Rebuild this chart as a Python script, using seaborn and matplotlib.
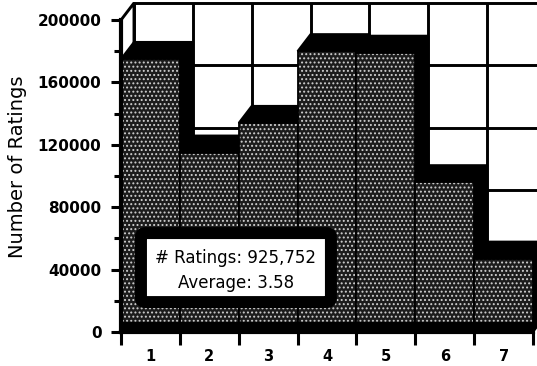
import matplotlib
matplotlib.use("Agg")
import matplotlib.pyplot as plt
from matplotlib.patches import Polygon, Rectangle, FancyBboxPatch
import seaborn as sns
import pandas as pd

# Rating histogram values
ratings = [1, 2, 3, 4, 5, 6, 7]
counts = [175000, 115000, 134000, 180000, 179000, 96000, 47000]
y_major = [0, 40000, 80000, 120000, 160000, 200000]
y_minor = [20000, 60000, 100000, 140000, 180000]
summary_lines = ["# Ratings: 925,752", "Average: 3.58"]
y_title = "Number of Ratings"

df = pd.DataFrame({"rating": ratings, "count": counts})

sns.set_theme(style="white")
plt.rcParams["font.family"] = ["DejaVu Sans"]
plt.rcParams["hatch.linewidth"] = 0.9

W, H = 537, 366
fig = plt.figure(figsize=(W / 100, H / 100), dpi=100)
ax = fig.add_axes([121 / W, (H - 332) / H, 412 / W, 312 / H])
ax.set_facecolor("white")
ax.set_xlim(0.5, 7.5)
ax.set_ylim(0, 200000)

# depth of the pseudo-3D box, in pixels converted to data units
inv = ax.transData.inverted()
x0, y0 = ax.transData.transform((0.5, 0))
p = inv.transform((x0 + 13, y0 + 17))
ddx, ddy = p[0] - 0.5, p[1]
band = inv.transform((x0, y0 + 10))[1]

ink = "black"
wall_lw = 2.1

# back wall and left wall
ax.add_patch(Rectangle((0.5 + ddx, ddy), 7, 200000, facecolor="white",
                       edgecolor=ink, lw=wall_lw, clip_on=False, zorder=0.8))
ax.add_patch(Polygon([(0.5, 0), (0.5, 200000), (0.5 + ddx, 200000 + ddy),
                      (0.5 + ddx, ddy)], closed=True, facecolor="white",
                     edgecolor=ink, lw=wall_lw, clip_on=False, zorder=0.9))
for yv in y_major[1:-1]:
    ax.plot([0.5 + ddx, 7.5 + ddx], [yv + ddy, yv + ddy], color=ink,
            lw=wall_lw, clip_on=False, zorder=1, solid_capstyle="butt")
for xe in [r + 0.5 for r in ratings[:-1]] + [7.5]:
    ax.plot([xe + ddx, xe + ddx], [ddy, 200000 + ddy], color=ink,
            lw=wall_lw, clip_on=False, zorder=1, solid_capstyle="butt")

# front faces: stippled fill, then outlines
sns.barplot(data=df, x="rating", y="count", native_scale=True, width=1.0,
            color="#1c1c1c", edgecolor="#cfcfcf", linewidth=0, ax=ax)
fill_bars = list(ax.containers[-1].patches)
sns.barplot(data=df, x="rating", y="count", native_scale=True, width=1.0,
            fill=False, edgecolor=ink, linewidth=1.3, ax=ax)
edge_bars = list(ax.containers[-1].patches)

for i, (fb, eb) in enumerate(zip(fill_bars, edge_bars)):
    fb.set_hatch("....")
    fb.set_zorder(3 + 3 * i + 1)
    eb.set_zorder(3 + 3 * i + 2)
    l = fb.get_x()
    r = l + fb.get_width()
    h = fb.get_height()
    top = Polygon([(l, h), (r, h), (r + ddx, h + ddy), (l + ddx, h + ddy)],
                  closed=True, facecolor=ink, edgecolor=ink, lw=1.5,
                  clip_on=False, zorder=3 + 3 * i)
    side = Polygon([(r, 0), (r, h), (r + ddx, h + ddy), (r + ddx, ddy)],
                   closed=True, facecolor=ink, edgecolor=ink, lw=1.5,
                   clip_on=False, zorder=3 + 3 * i)
    ax.add_patch(top)
    ax.add_patch(side)

# dark base strip along the floor edge
ax.axhspan(0, band, color=ink, zorder=30)

# axes, ticks and labels
sns.despine(ax=ax)
for s in ("left", "bottom"):
    ax.spines[s].set_color(ink)
    ax.spines[s].set_linewidth(3)
    ax.spines[s].set_zorder(40)

ax.set_yticks(y_major)
ax.set_yticks(y_minor, minor=True)
ax.set_yticklabels([str(v) for v in y_major], fontsize=11, fontweight="bold")
ax.tick_params(axis="y", which="major", direction="out", length=7, width=2.2,
               color=ink, pad=7, left=True, labelcolor=ink)
ax.tick_params(axis="y", which="minor", direction="out", length=5, width=2.2,
               color=ink, left=True)

ax.set_xticks([r - 0.5 for r in ratings] + [7.5])
ax.set_xticklabels([])
ax.set_xticks(ratings, minor=True)
ax.set_xticklabels([str(r) for r in ratings], minor=True, fontsize=10.5,
                   fontweight="bold")
ax.tick_params(axis="x", which="major", direction="out", length=9, width=2.2,
               color=ink, bottom=True)
ax.tick_params(axis="x", which="minor", length=0, pad=12, labelcolor=ink,
               bottom=True)
ax.set_xlabel("")

ax.set_ylabel(y_title, fontsize=14, color=ink)
ax.yaxis.set_label_coords(-0.228, 0.53)

# summary box
ax.add_patch(FancyBboxPatch((0.0485, 0.096), 0.461, 0.221,
                            boxstyle="round,pad=0,rounding_size=0.012",
                            transform=ax.transAxes, facecolor="white",
                            edgecolor=ink, lw=8.6, zorder=50, clip_on=False))
ax.text(0.279, 0.237, summary_lines[0], transform=ax.transAxes, ha="center",
        va="center", fontsize=12, color=ink, zorder=51)
ax.text(0.279, 0.157, summary_lines[1], transform=ax.transAxes, ha="center",
        va="center", fontsize=12, color=ink, zorder=51)

fig.savefig("out.png", dpi=100)
